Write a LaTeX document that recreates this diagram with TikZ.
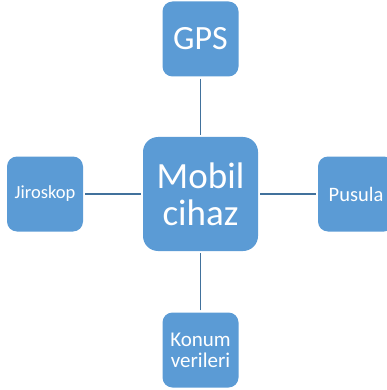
\documentclass[tikz,border=0pt]{standalone}
\usepackage{fontspec}
\setmainfont{Carlito}
\definecolor{boxblue}{RGB}{91,155,213}
\definecolor{lineblue}{RGB}{65,113,156}
\begin{document}
\begin{tikzpicture}[x=1pt,y=-1pt,
  smallbox/.style={fill=boxblue,draw=none,rounded corners=10pt,minimum width=76pt,minimum height=75pt,inner sep=0pt,text=white,align=center},
  bigbox/.style={fill=boxblue,draw=none,rounded corners=15pt,minimum width=115pt,minimum height=114pt,inner sep=0pt,text=white,align=center},
  link/.style={draw=lineblue,line width=1.8pt,shorten <=2pt,shorten >=2pt}]
\useasboundingbox (0,0) rectangle (386,390);
\node[bigbox,font={\fontsize{37}{37}\selectfont}] (m) at (200.5,194) {Mobil\\cihaz};
\node[smallbox,font={\fontsize{34}{34}\selectfont}] (g) at (200.5,39) {GPS};
\node[smallbox,font={\fontsize{18.5}{20}\selectfont}] (j) at (45,194) {Jiroskop};
\node[smallbox,font={\fontsize{20.5}{21}\selectfont}] (p) at (356,194) {Pusula};
\node[smallbox,font={\fontsize{21}{21}\selectfont}] (k) at (200.5,350) {Konum\\verileri};
\draw[link] (g) -- (m);
\draw[link] (j) -- (m);
\draw[link] (p) -- (m);
\draw[link] (k) -- (m);
\end{tikzpicture}
\end{document}
